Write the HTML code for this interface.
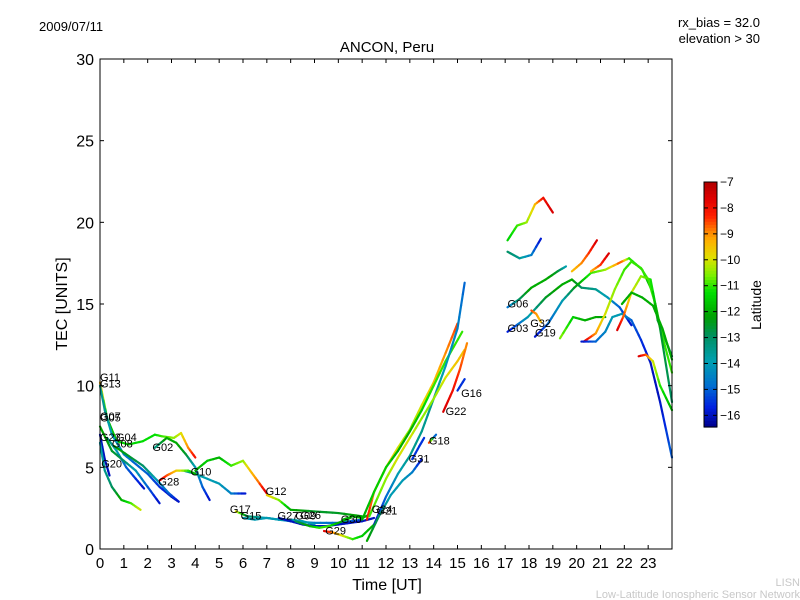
<!DOCTYPE html>
<html><head><meta charset="utf-8"><style>
body{margin:0;background:#fff;}
svg{display:block;font-family:"Liberation Sans","DejaVu Sans",sans-serif;}
</style></head><body>
<svg id="chart" width="800" height="600" viewBox="0 0 800 600" xmlns="http://www.w3.org/2000/svg">
<rect width="800" height="600" fill="#fff"/>
<text x="39" y="31" font-size="13">2009/07/11</text>
<text x="760" y="27" font-size="13" text-anchor="end">rx_bias = 32.0</text>
<text x="760" y="43" font-size="13" text-anchor="end">elevation &gt; 30</text>
<text x="387" y="52" font-size="15" text-anchor="middle">ANCON, Peru</text>
<g id="tracks"></g>
<g id="labels"></g>
<rect x="100" y="59" width="572" height="490" fill="none" stroke="#000" stroke-width="1"/>
<g id="axes"></g>
<text x="387" y="590" font-size="16" text-anchor="middle">Time [UT]</text>
<text transform="translate(67,304) rotate(-90)" font-size="16" text-anchor="middle">TEC [UNITS]</text>
<g id="cbar"></g>
<text transform="translate(761,305) rotate(-90)" font-size="14" text-anchor="middle">Latitude</text>
<text x="800" y="586" font-size="11" fill="#c8c8c8" text-anchor="end">LISN</text>
<text x="800" y="598" font-size="11" fill="#c8c8c8" text-anchor="end">Low-Latitude Ionospheric Sensor Network</text>
</svg>
<script>
const xTicks=[0,1,2,3,4,5,6,7,8,9,10,11,12,13,14,15,16,17,18,19,20,21,22,23];
const yTicks=[0,5,10,15,20,25,30];
const cbTicks=[-7,-8,-9,-10,-11,-12,-13,-14,-15,-16];
const latMin=-16.45, latMax=-7;
const trackNames=["G11","G13","G20a","G20b","G08","G23","G04","G02","G10t","G28","Gmid","G12","G17","G15","G27","G26","G29","G30","R1","R2","G16l","R4","G21","G31","G18","G22","G16s","G06t","Gtb","G06","G03","G19","Eyg","E7","E8","E9","E10","E11","E13","E14","G32"];
const trackTimes=[
[0,0.3,0.7,1.2,1.8,2.3,2.6,3.1,3.4,3.7,4.0],
[0,0.2,0.5,1,1.5,2,2.5,3,3.3],
[0,0.2,0.4],
[0,0.2,0.5,0.9,1.3,1.7],
[0.3,0.7,1.1,1.5,1.85],
[0,0.5,1,1.5,2,2.5],
[0.6,1.2,1.8,2.4,2.9,3.3],
[2.3,2.8,3.2,3.6,4.0,4.3,4.6],
[3.5,4,4.5,5,5.5,6.1],
[2.5,2.8,3.2,3.7,4.0],
[4.0,4.5,5.0,5.5,6,6.3,6.6,7.0],
[7.0,7.5,8,9,10,11],
[5.7,6.2,7,7.5,8,9,10,11],
[6,6.5,7,7.5,8,8.5,9],
[7.5,8,8.5,9,9.5,10,10.5,11,11.5],
[8.2,8.8,9.2,9.6,10,10.5],
[9.4,9.8,10.2,10.6,11,11.5],
[10.2,10.6,11,11.3],
[11.2,11.5,12,12.5,13,13.5,14,14.5,15],
[11,11.5,12,12.5,13,13.5,14,14.5,15.2],
[11.5,12,12.5,13,13.5,14,14.5,15,15.3],
[11.3,12,12.5,13,13.5,14,14.5,15,15.3],
[11.2,11.7,12.2,12.7,13.1,13.5],
[13.1,13.4,13.6],
[13.8,14.1],
[14.4,14.8,15.1,15.4],
[15.0,15.3],
[17.1,17.5,17.9,18.25,18.6,19.0],
[17.1,17.6,18.1,18.5],
[17.1,17.6,18.1,18.7,19.2,19.55],
[17.1,17.95,18.7,19.4,19.8,20.2,20.8,21.3,21.8,22.3],
[18.25,18.8,19.4,19.9,20.6,21.2,21.9,22.2,22.75,23.2,23.4,24],
[19.3,19.85,20.35,20.8,21.2],
[20.3,20.8,21.2,21.6,22,22.3,22.7,23,23.3,23.6,24],
[20.2,20.8,21.2,21.5,21.9,22.3,22.7,23.1,23.5,24],
[21.7,21.95,22.3,22.7,23.1,23.5,24],
[21.9,22.3,22.75,23.2,23.6,24],
[22.6,22.9,23.2,23.5,24],
[19.8,20.2,20.5,20.85],
[20.6,21.0,21.35],
[18.1,18.3,18.5]];
const trackTec=[
[10.2,8,6.6,6.4,6.6,7.0,6.9,6.8,7.1,6.2,5.6],
[10,8.5,7,5.8,5.2,4.6,3.8,3.2,2.9],
[7,5.5,4.5],
[6.5,4.8,3.8,3.0,2.8,2.4],
[6.8,6.0,5.0,4.3,3.7],
[7.5,6,5.4,4.8,3.8,2.8],
[6.3,5.7,5.1,4.2,3.4,2.9],
[6.2,6.8,6.5,5.8,5.0,3.8,3.0],
[4.8,4.6,4.3,4.0,3.4,3.4],
[4.2,4.5,4.8,4.8,4.6],
[4.8,5.4,5.6,5.1,5.4,4.8,4.2,3.4],
[3.3,3.0,2.4,2.3,2.2,2.0],
[2.3,2.0,1.9,1.8,1.7,1.6,1.6,1.8],
[1.9,1.8,1.9,1.8,1.8,1.7,1.5],
[1.9,1.7,1.5,1.4,1.4,1.5,1.6,1.7,1.9],
[1.7,1.4,1.3,1.4,1.6,1.9],
[1.1,1.0,0.8,0.6,0.8,1.5],
[1.8,2.0,1.9,2.1],
[1.8,3.5,5.0,6.2,7.3,8.8,10.2,12,13.8],
[1.8,3.5,5,6,7.2,8.5,10,11.5,13.3],
[1.5,3.2,4.6,5.7,7.2,9.2,11.2,13.5,16.3],
[2,4.3,5.6,6.8,8,9.2,10.5,11.5,12.2],
[0.5,2.0,3.3,4.2,4.7,5.5],
[5.5,6.3,6.8],
[6.5,7.0],
[8.4,9.7,11,12.6],
[9.7,10.4],
[18.9,19.8,20.0,21.1,21.5,20.6],
[18.2,17.8,18.0,19.0],
[14.8,15.3,16.0,16.5,17.0,17.3],
[13.3,14.2,15.4,16.2,16.5,16.0,15.9,15.4,14.8,13.7],
[13.0,13.8,15.2,16.0,16.9,17.1,17.6,17.8,17.1,15.7,14,11.8],
[12.9,14.2,14.0,14.2,14.2],
[12.7,13.2,14.4,15.9,17.1,17.6,17.2,16.5,15,13,10.8],
[12.7,12.7,13.3,14.2,14.4,14,12.8,11.4,9,5.6],
[13.4,14.2,15.7,16.7,16.5,13.5,9.0],
[15.0,15.7,15.4,14.9,13.5,11.6],
[11.8,11.9,11.5,10,8.5],
[17.0,17.5,18.1,18.9],
[17.0,17.4,18.1],
[14.6,14.4,13.9]];
const trackLat=[
[-9,-12,-11.5,-11.5,-11.3,-11.3,-11,-10.5,-10,-9,-8],
[-13.5,-13.5,-14,-14.5,-15,-15,-15.5,-16,-16.3],
[-16,-16,-16],
[-14,-13.5,-13,-12,-11,-10],
[-13,-14,-15,-15.5,-16],
[-12,-12.5,-13,-14,-15,-16],
[-12,-12.5,-13,-14,-15,-16],
[-13.5,-12,-12,-12.5,-14,-15,-16],
[-13.5,-13.5,-14,-14,-14.5,-16],
[-7.5,-8.5,-9.5,-11,-12],
[-12,-11.5,-12,-11,-10.5,-9.5,-9,-7.5],
[-9.5,-10.5,-12,-12.5,-12.5,-12],
[-9.5,-13,-14,-14,-14.5,-14.5,-15,-15],
[-14,-14,-14,-14,-14,-14,-14],
[-16,-16,-16,-16,-16,-16,-16,-16,-16],
[-13,-12,-11,-11,-12,-12],
[-7.5,-9,-10,-11,-11.5,-12],
[-12,-12,-12,-12],
[-8,-9,-9.5,-10,-10.5,-10,-9.5,-9,-8.5],
[-12,-11.5,-11.5,-12,-12,-11.5,-11,-11,-11],
[-16,-15,-14,-13.5,-13.5,-13.5,-14,-14.5,-15],
[-11,-10.5,-10,-10,-10.5,-10.5,-10,-9.5,-9.5],
[-12,-13,-14,-14,-14.5,-16],
[-15.5,-15.5,-15.5],
[-7.5,-16],
[-7.5,-8,-8.5,-9],
[-15.5,-15.5],
[-11.5,-11,-10.5,-9.5,-8,-7.5],
[-13,-13.5,-14.5,-16],
[-15,-13,-12,-12,-12.5,-14],
[-16,-14,-12.5,-12,-12,-13,-13.5,-14,-15,-16],
[-16,-15,-14,-12.5,-11,-10.5,-8.5,-11,-11.5,-12,-12.5,-13],
[-10.5,-11.5,-12,-12,-12.5],
[-7.5,-9,-10,-10.5,-11,-11,-11,-11,-11,-11,-11],
[-16,-15,-14.5,-14,-14,-15,-15.5,-16,-16,-15],
[-7.5,-8.5,-10,-10.5,-11,-12.5,-13],
[-12,-12,-12,-12,-12,-12],
[-7.5,-8.5,-10,-11,-12],
[-9.5,-9,-8.5,-7.5],
[-9.5,-8.5,-7.5],
[-8.5,-9,-9.5]];
const labelNames=["G11","G13","G07","G05","G23","G04","G08","G02","G20","G28","G10","G17","G15","G12","G27","G09","G26","G29","G30","G24","G21","G31","G18","G22","G16","G06","G32","G03","G19"];
const labelT=[0,0,0,0,0,0.67,0.5,2.2,0.05,2.45,3.8,5.45,5.9,6.95,7.45,8.2,8.4,9.45,10.1,11.4,11.6,12.95,13.8,14.5,15.15,17.1,18.05,17.1,18.25];
const labelV=[10.3,9.9,7.9,7.8,6.6,6.6,6.2,6.0,5.0,3.9,4.5,2.2,1.8,3.3,1.8,1.8,1.85,0.9,1.6,2.2,2.1,5.3,6.4,8.2,9.3,14.8,13.6,13.3,13.0];

const X=t=>100+t*572/24, Y=v=>549-v*490/30;
const NS="http://www.w3.org/2000/svg";
const stops=[[0,[0,0,140]],[0.08,[0,32,224]],[0.17,[0,112,208]],[0.27,[0,160,176]],[0.37,[0,144,96]],[0.45,[0,160,0]],[0.55,[0,224,0]],[0.62,[128,240,0]],[0.69,[224,224,0]],[0.76,[255,176,0]],[0.80,[255,128,0]],[0.86,[255,32,0]],[0.93,[224,0,0]],[1,[176,0,0]]];
function cmap(f){f=Math.max(0,Math.min(1,f));
 for(let i=0;i<stops.length-1;i++){const [a,ca]=stops[i],[b,cb]=stops[i+1];
  if(f<=b){const u=(f-a)/(b-a);return `rgb(${ca.map((c,k)=>Math.round(c+(cb[k]-c)*u)).join(',')})`;}}
 return 'rgb(176,0,0)';}
const latColor=l=>cmap((l-latMin)/(latMax-latMin));
function mk(tag,attrs,parent){const e=document.createElementNS(NS,tag);for(const k in attrs)e.setAttribute(k,attrs[k]);parent.appendChild(e);return e;}
const tracks=document.getElementById('tracks');
trackTimes.forEach((ts,i)=>{
 const g=mk('g',{},tracks);
 
 
 for(let j=0;j<ts.length-1;j++){
  const steps=4;
  for(let s=0;s<steps;s++){
   const a=s/steps,b=(s+1)/steps;
   const t1=ts[j]+(ts[j+1]-ts[j])*a,t2=ts[j]+(ts[j+1]-ts[j])*b;
   const v1=trackTec[i][j]+(trackTec[i][j+1]-trackTec[i][j])*a,v2=trackTec[i][j]+(trackTec[i][j+1]-trackTec[i][j])*b;
   const l=trackLat[i][j]+(trackLat[i][j+1]-trackLat[i][j])*(a+b)/2;
   const ln=mk('line',{x1:X(t1),y1:Y(v1),x2:X(t2),y2:Y(v2),stroke:latColor(l),'stroke-width':2.2,'stroke-linecap':'round'},g);
   
   
  }
 }
});
const labels=document.getElementById('labels');
labelNames.forEach((n,i)=>{
 const t=mk('text',{x:X(labelT[i]),y:Y(labelV[i]),'font-size':11},labels);
 t.textContent=n;
 
 
});
const axes=document.getElementById('axes');
xTicks.forEach(t=>{
 mk('line',{x1:X(t),y1:549,x2:X(t),y2:545,stroke:'#000'},axes);
 mk('line',{x1:X(t),y1:59,x2:X(t),y2:63,stroke:'#000'},axes);
 const tx=mk('text',{x:X(t),y:568,'font-size':15,'text-anchor':'middle'},axes);
 tx.textContent=t;
 
 
});
yTicks.forEach(v=>{
 mk('line',{x1:100,y1:Y(v),x2:104,y2:Y(v),stroke:'#000'},axes);
 mk('line',{x1:672,y1:Y(v),x2:668,y2:Y(v),stroke:'#000'},axes);
 const tx=mk('text',{x:94,y:Y(v)+6,'font-size':16,'text-anchor':'end'},axes);
 tx.textContent=v;
 
 
});
const cb=document.getElementById('cbar');
const cbTop=182,cbBot=427,CY=l=>cbTop+(latMax-l)/(latMax-latMin)*(cbBot-cbTop);
for(let k=0;k<80;k++){
 const l1=latMax-(latMax-latMin)*k/80,l2=latMax-(latMax-latMin)*(k+1)/80;
 mk('rect',{x:704,y:CY(l1),width:13,height:CY(l2)-CY(l1)+0.6,fill:latColor((l1+l2)/2)},cb);
}
mk('rect',{x:704,y:cbTop,width:13,height:cbBot-cbTop,fill:'none',stroke:'#000'},cb);
cbTicks.forEach(l=>{
 mk('line',{x1:717,y1:CY(l),x2:713,y2:CY(l),stroke:'#000'},cb);
 mk('line',{x1:704,y1:CY(l),x2:708,y2:CY(l),stroke:'#000'},cb);
 const tx=mk('text',{x:720,y:CY(l)+4,'font-size':12},cb);
 tx.textContent='\u2212'+Math.abs(l);
 
 
});
</script>
</body></html>
